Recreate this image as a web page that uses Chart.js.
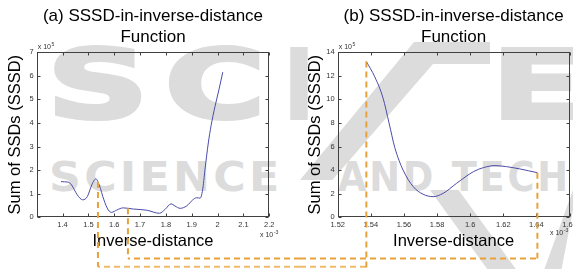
<!DOCTYPE html>
<html>
<head>
<meta charset="utf-8">
<script src="https://cdn.jsdelivr.net/npm/chart.js@4.4.1/dist/chart.umd.min.js"></script>
<style>
  html, body { margin:0; padding:0; background:#fff; }
  #wrap { position:relative; width:573px; height:269px; overflow:hidden; background:#fff; }
  .wm { position:absolute; color:#dcdcdc; font-family:"DejaVu Sans"; font-weight:bold; line-height:1; white-space:nowrap; transform-origin:left top; }
  .big { -webkit-text-stroke:4px #dcdcdc; }
  .shape { position:absolute; background:#dcdcdc; }
  canvas { position:absolute; top:0; }
  #c1 { left:0; }
  #c2 { left:300px; }
</style>
</head>
<body>
<div id="wrap">
  <div class="wm big" style="left:47px;top:39px;font-size:94px;transform:scaleX(1.5)">S</div>
  <div class="wm big" style="left:165px;top:39px;font-size:94px;transform:scaleX(1.45)">C</div>
  <div class="wm big" style="left:285px;top:39px;font-size:94px;transform:scaleX(0.8)">I</div>
  <div class="shape" style="left:300px;top:42px;width:190px;height:138px;clip-path:polygon(0% 100%, 17% 100%, 70% 16%, 100% 16%, 100% 0%, 60% 0%)"></div>
  <div class="wm big" style="left:492px;top:39px;font-size:94px;transform:scaleX(1.4)">E</div>
  <div class="shape" style="left:430px;top:190px;width:143px;height:79px;clip-path:polygon(0% 0%, 20% 0%, 60% 100%, 40% 100%)"></div>
  <div class="shape" style="left:430px;top:190px;width:143px;height:79px;clip-path:polygon(80% 100%, 100% 0%, 100% 25%, 92% 100%)"></div>
  <div class="wm" style="left:49px;top:157px;font-size:41px;letter-spacing:3px;transform:scaleX(1.08)">SCIENCE</div>
  <div class="wm" style="left:338px;top:157px;font-size:40px;letter-spacing:3px;transform:scaleX(0.92)">AND TECH</div>
  <canvas id="c1" width="300" height="269"></canvas>
  <canvas id="c2" width="273" height="269"></canvas>
</div>
<script>
// ---------------- data ----------------
// (a) inverse-distance (x 10^-3) and SSSD (x 10^5)
const leftX = [1.394,1.422,1.435,1.457,1.478,1.496,1.513,1.529,1.542,1.560,1.577,1.590,1.610,1.635,1.674,1.726,1.775,1.797,1.820,1.835,1.855,1.880,1.904,1.919,1.932,1.942,1.951,1.964,1.975,1.990,2.005,2.020];
const leftY = [1.51,1.49,1.37,0.95,0.74,0.88,1.37,1.63,1.37,0.74,0.31,0.21,0.31,0.40,0.35,0.30,0.17,0.34,0.57,0.48,0.38,0.48,0.74,0.83,0.81,1.16,2.01,3.15,3.90,4.70,5.40,6.15];
// (b)
const rightX = [1.5373,1.5424,1.5474,1.5510,1.5545,1.5595,1.5656,1.5716,1.5777,1.5837,1.5918,1.6020,1.6080,1.6150,1.6220,1.6300,1.6406];
const rightY = [13.2,11.9,10.1,8.0,5.9,4.0,2.6,1.95,1.75,2.03,2.88,3.87,4.21,4.38,4.29,4.10,3.78];
// marked points joined by the dashed guides
const leftMarkX = [1.537, 1.653];
const leftMarkY = [1.50, 0.38];
const rightMarkX = [1.5373, 1.6406];
const rightMarkY = [13.2, 3.78];
// axis ticks
const leftXTicks = {min:1.3, max:2.2, step:0.1};
const leftYTicks = {min:0, max:7, step:1};
const rightXTicks = {min:1.52, max:1.66, step:0.02};
const rightYTicks = {min:0, max:14, step:2};
const titleA = ['(a) SSSD-in-inverse-distance', 'Function'];
const titleB = ['(b) SSSD-in-inverse-distance', 'Function'];
const yTitle = 'Sum of SSDs (SSSD)';
const xTitle = 'Inverse-distance';
const yExp = '5';
const xExp = '-3';

// ---------------- helpers ----------------
const FONT = 'Liberation Sans';
const LINE = '#4b4ba8';
const ORANGE = '#e8a23a';

const boxPlugin = {
  id: 'mbox',
  afterDatasetsDraw(chart) {
    const {ctx, chartArea: a, scales: {x, y}} = chart;
    const L = Math.round(a.left) + 0.5, R = Math.round(a.right) - 0.5;
    const T = Math.round(a.top) + 0.5, B = Math.round(a.bottom) - 0.5;
    ctx.save();
    ctx.strokeStyle = '#404040';
    ctx.lineWidth = 1;
    ctx.strokeRect(L, T, R - L, B - T);
    ctx.beginPath();
    x.ticks.forEach(t => {
      const px = Math.round(x.getPixelForValue(t.value)) + 0.5;
      ctx.moveTo(px, B); ctx.lineTo(px, B - 3);
      ctx.moveTo(px, T); ctx.lineTo(px, T + 3);
    });
    y.ticks.forEach(t => {
      const py = Math.round(y.getPixelForValue(t.value)) + 0.5;
      ctx.moveTo(L, py); ctx.lineTo(L + 3, py);
      ctx.moveTo(R, py); ctx.lineTo(R - 3, py);
    });
    ctx.stroke();
    // exponent labels
    ctx.fillStyle = '#333';
    ctx.textBaseline = 'alphabetic';
    ctx.textAlign = 'left';
    const o = chart.options.plugins.mbox;
    ctx.font = '7px "' + FONT + '"';
    ctx.fillText('x 10', a.left + 1, a.top - 3);
    let w = ctx.measureText('x 10').width;
    ctx.font = '5px "' + FONT + '"';
    ctx.fillText(yExp, a.left + 1 + w + 0.5, a.top - 6.5);
    ctx.font = '7px "' + FONT + '"';
    ctx.fillText('x 10', o.xExpX, o.xExpY);
    w = ctx.measureText('x 10').width;
    ctx.font = '5px "' + FONT + '"';
    ctx.fillText(xExp, o.xExpX + w + 0.5, o.xExpY - 3.5);
    ctx.restore();
  },
  afterDraw(chart) {
    const {ctx, scales: {x, y}} = chart;
    const o = chart.options.plugins.mbox;
    const W = chart.width, H = chart.height;
    ctx.save();
    ctx.lineWidth = 2;
    ctx.setLineDash([6, 4]);
    o.markX.forEach((mx, i) => {
      const px = x.getPixelForValue(mx);
      const py = y.getPixelForValue(o.markY[i]);
      const lvl = o.levels[i];
      ctx.beginPath();
      if (o.side === 'left') {
        ctx.moveTo(W, lvl); ctx.lineTo(px, lvl);
      } else {
        ctx.moveTo(0, lvl); ctx.lineTo(px, lvl);
      }
      ctx.strokeStyle = i === 0 ? '#efbb6a' : ORANGE;
      ctx.stroke();
      ctx.beginPath();
      ctx.strokeStyle = ORANGE;
      ctx.moveTo(px, py);
      ctx.lineTo(px, (o.side === 'right' && i === 0) ? H : lvl);
      ctx.stroke();
    });
    ctx.restore();
  }
};

function fmt(v) { return String(Number(v.toFixed(2))); }

function makeChart(id, xs, ys, xt, yt, title, cfg) {
  const pts = xs.map((v, i) => ({x: v, y: ys[i]}));
  return new Chart(document.getElementById(id), {
    type: 'scatter',
    data: { datasets: [{ data: pts, showLine: true, borderColor: LINE, borderWidth: 1, pointRadius: 0, cubicInterpolationMode: 'monotone', fill: false }] },
    options: {
      responsive: false, animation: false, events: [],
      layout: { padding: { left: 0, right: cfg.padRight, top: 0, bottom: 0 } },
      plugins: {
        legend: { display: false }, tooltip: { enabled: false },
        title: { display: true, text: title, fullSize: false, color: '#000',
                 font: { family: FONT, size: 17, weight: 'normal', lineHeight: 1.265 },
                 padding: { top: 5.5, bottom: 3.6 } },
        mbox: cfg.mbox
      },
      scales: {
        x: {
          type: 'linear', min: xt.min, max: xt.max,
          grid: { display: false, drawTicks: false }, border: { display: false },
          ticks: { stepSize: xt.step, padding: 3.5, color: '#333', maxRotation: 0, autoSkip: false,
                   font: { family: FONT, size: 7.5 },
                   callback: (v) => (v < xt.min + xt.step * 0.5 && cfg.hideFirstX) ? '' : fmt(v) },
          title: { display: true, text: xTitle, color: '#000', font: { family: FONT, size: 16.5 }, padding: { top: 0, bottom: 18.1 } },
          afterFit: (s) => { s.height = 269 - 217.3; s.paddingLeft = 0; s.paddingRight = 0; }
        },
        y: {
          type: 'linear', min: yt.min, max: yt.max,
          grid: { display: false, drawTicks: false }, border: { display: false },
          ticks: { stepSize: yt.step, padding: 3, color: '#333', font: { family: FONT, size: 7.5 }, callback: (v) => fmt(v) },
          title: { display: true, text: yTitle, color: '#000', font: { family: FONT, size: 16.5 }, padding: { top: cfg.yTitlePad, bottom: 0 } },
          afterFit: (s) => { s.width = cfg.yWidth; s.paddingTop = 0; s.paddingBottom = 0; }
        }
      }
    },
    plugins: [boxPlugin]
  });
}

makeChart('c1', leftX, leftY, leftXTicks, leftYTicks, titleA, {
  padRight: 300 - 269.3, yWidth: 36.7, yTitlePad: 5.6, hideFirstX: true,
  mbox: { side: 'left', markX: leftMarkX, markY: leftMarkY, levels: [266.7, 258.5], xExpX: 260, xExpY: 237 }
});
makeChart('c2', rightX, rightY, rightXTicks, rightYTicks, titleB, {
  padRight: 273 - 269.5, yWidth: 37.7, yTitlePad: 5.1, hideFirstX: false,
  mbox: { side: 'right', markX: rightMarkX, markY: rightMarkY, levels: [266.7, 258.5], xExpX: 250, xExpY: 235 }
});
</script>
</body>
</html>
